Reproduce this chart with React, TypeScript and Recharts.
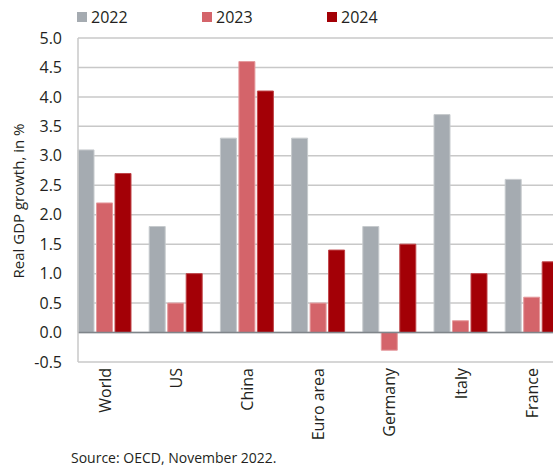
import { BarChart, Bar, XAxis, YAxis, CartesianGrid, ReferenceLine, Legend } from 'recharts'

const regions = ['World', 'US', 'China', 'Euro area', 'Germany', 'Italy', 'France']
const growth2022 = [3.1, 1.8, 3.3, 3.3, 1.8, 3.7, 2.6]
const growth2023 = [2.2, 0.5, 4.6, 0.5, -0.3, 0.2, 0.6]
const growth2024 = [2.7, 1.0, 4.1, 1.4, 1.5, 1.0, 1.2]
const yTicks = [-0.5, 0, 0.5, 1, 1.5, 2, 2.5, 3, 3.5, 4, 4.5, 5]

const data = regions.map((name, i) => ({
  name,
  y2022: growth2022[i],
  y2023: growth2023[i],
  y2024: growth2024[i],
}))

const FONT = '"Open Sans", "Noto Sans", sans-serif'
const TEXT = '#231f20'

function RegionTick({ x, y, payload }: any) {
  return (
    <text
      x={x}
      y={y}
      transform={`rotate(-90, ${x}, ${y})`}
      textAnchor="end"
      dominantBaseline="central"
      fontSize={16}
      fontFamily={FONT}
      fill={TEXT}
    >
      {payload.value}
    </text>
  )
}

function AxisTitle({ viewBox }: any) {
  const cx = viewBox.x + 18
  const cy = viewBox.y + viewBox.height / 2 + 1
  return (
    <text
      x={cx}
      y={cy}
      transform={`rotate(-90, ${cx}, ${cy})`}
      textAnchor="middle"
      dominantBaseline="central"
      fontSize={15}
      fontFamily={FONT}
      fill={TEXT}
    >
      Real GDP growth, in %
    </text>
  )
}

function YearLegend({ payload }: any) {
  return (
    <div style={{ display: 'flex', fontFamily: FONT, fontSize: 16, color: TEXT }}>
      {(payload || []).map((entry: any) => (
        <div key={entry.value} style={{ width: 125, display: 'flex', alignItems: 'center' }}>
          <span style={{ width: 10, height: 10, background: entry.color, marginRight: 4, display: 'inline-block' }} />
          <span>{entry.value}</span>
        </div>
      ))}
    </div>
  )
}

export default function App() {
  return (
    <div style={{ position: 'absolute', left: 0, top: 0, width: 553, height: 469, overflow: 'hidden', background: '#fff' }}>
      <BarChart
        width={580}
        height={469}
        data={data}
        margin={{ top: 38, right: 12.6, left: 0, bottom: 17 }}
        barSize={16}
        barGap={2.5}
      >
        <CartesianGrid vertical={false} stroke="#c8c8c8" strokeWidth={1.5} />
        <XAxis
          dataKey="name"
          interval={0}
          axisLine={false}
          tickLine={false}
          tickSize={0}
          tickMargin={6}
          height={90}
          padding={{ left: -9, right: 0 }}
          tick={<RegionTick />}
        />
        <YAxis
          width={78}
          domain={[-0.5, 5]}
          ticks={yTicks}
          interval={0}
          tickFormatter={(v: number) => v.toFixed(1)}
          axisLine={{ stroke: '#c8c8c8', strokeWidth: 1.5 }}
          tickLine={false}
          tickSize={0}
          tickMargin={16}
          tick={{ fontSize: 16, fontFamily: FONT, fill: TEXT }}
          label={<AxisTitle />}
        />
        <Legend
          layout="vertical"
          verticalAlign="middle"
          align="center"
          wrapperStyle={{ top: 6, left: 77, width: 400 }}
          content={<YearLegend />}
        />
        <Bar dataKey="y2022" name="2022" fill="#a5abb1" stroke="#c6cacd" strokeWidth={1} isAnimationActive={false} />
        <Bar dataKey="y2023" name="2023" fill="#d4646a" stroke="#e59a9d" strokeWidth={1} isAnimationActive={false} />
        <Bar dataKey="y2024" name="2024" fill="#a30006" stroke="#bf4448" strokeWidth={1} isAnimationActive={false} />
        <ReferenceLine y={0} stroke="#7f858a" strokeWidth={1.5} />
      </BarChart>
      <div style={{ position: 'absolute', left: 71, top: 448, fontFamily: FONT, fontSize: 14, color: TEXT, whiteSpace: 'nowrap' }}>
        Source: OECD, November 2022.
      </div>
    </div>
  )
}
